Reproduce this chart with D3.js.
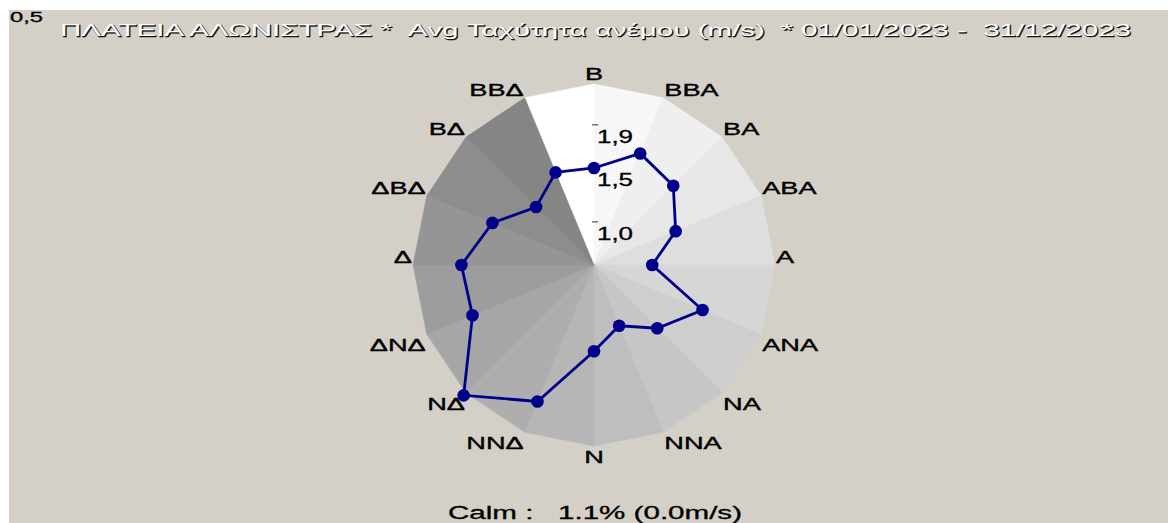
<!DOCTYPE html>
<html>
<head>
<meta charset="utf-8">
<script src="https://cdn.jsdelivr.net/npm/d3@7"></script>
<style>
  body { margin: 0; background: #fff; }
  text { font-family: "Liberation Sans", Arial, sans-serif; white-space: pre; }
</style>
</head>
<body>
<div id="chart"></div>
<script>
// directions clockwise from north
const directions = ["Β", "ΒΒΑ", "ΒΑ", "ΑΒΑ", "Α", "ΑΝΑ", "ΝΑ", "ΝΝΑ",
                    "Ν", "ΝΝΔ", "ΝΔ", "ΔΝΔ", "Δ", "ΔΒΔ", "ΒΔ", "ΒΒΔ"]
// avg wind speed (m/s) per direction
const speeds = [1.50, 1.72, 1.64, 1.42, 1.14, 1.69, 1.43, 1.21,
                1.40, 1.97, 2.31, 1.82, 1.83, 1.62, 1.36, 1.53]
const ticks = [1.0, 1.5, 1.9]
const tickLabels = ["1,0", "1,5", "1,9"]
const cornerLabel = "0,5"
const title = "ΠΛΑΤΕΙΑ ΑΛΩΝΙΣΤΡΑΣ *  Avg Ταχύτητα ανέμου (m/s)  * 01/01/2023 -  31/12/2023"
const calmText = "Calm :   1.1% (0.0m/s)"

const w = 1168
const h = 523
const cx = 594, cy = 265
const R = 181

var svg = d3.select("#chart").append("svg")
    .attr("width", w).attr("height", h)

svg.append("rect").attr("x", 9).attr("y", 10)
    .attr("width", w - 9).attr("height", h - 10)
    .attr("fill", "#d4d0c8")

var step = 2 * Math.PI / directions.length
var r = d3.scaleLinear().domain([0.6, 0.6 + R / 107.8]).range([0, R])
var shade = d3.scaleLinear().domain([0, directions.length - 1]).range(["#ffffff", "#858585"])

var g = svg.append("g").attr("transform", `translate(${cx},${cy})`)

function pt(a, rad) {
    return [Math.sin(a) * rad, -Math.cos(a) * rad]
}

// background wedges, white starting at ΒΒΔ and darkening clockwise
directions.forEach(function(d, k) {
    var a0 = -step + k * step
    var a1 = a0 + step
    var p0 = pt(a0, R), p1 = pt(a1, R)
    g.append("path")
        .attr("d", `M0,0L${p0[0]},${p0[1]}L${p1[0]},${p1[1]}Z`)
        .attr("fill", shade(k))
        .attr("stroke", shade(k)).attr("stroke-width", 0.5)
})

// stretch a text element horizontally
function stretch(sel, f) {
    sel.each(function() {
        var len = this.getComputedTextLength()
        d3.select(this).attr("textLength", len * f).attr("lengthAdjust", "spacingAndGlyphs")
    })
}

// direction labels
directions.forEach(function(d, i) {
    var v = pt(i * step, R)
    var anchor = "middle", x = v[0]
    if (v[0] > 1) { anchor = "start"; x = v[0] + 1 }
    if (v[0] < -1) { anchor = "end"; x = v[0] - 1 }
    var y = v[1] <= 0.5 ? v[1] - 2 : v[1] + 17
    if (i == 0) y = v[1] - 4
    g.append("text").attr("x", x).attr("y", y)
        .attr("text-anchor", anchor)
        .attr("font-size", 17).attr("fill", "#000")
        .attr("stroke", "#000").attr("stroke-width", 0.35)
        .text(d)
        .call(stretch, 1.6)
})

// radial ticks
ticks.forEach(function(t, i) {
    g.append("line").attr("x1", -2).attr("x2", 4)
        .attr("y1", -r(t)).attr("y2", -r(t))
        .attr("stroke", "#333").attr("stroke-width", 1)
    g.append("text").attr("x", 3).attr("y", -r(t) + 18)
        .attr("font-size", 18).attr("fill", "#000")
        .attr("stroke", "#000").attr("stroke-width", 0.3)
        .text(tickLabels[i])
        .call(stretch, 1.44)
})

// data line
var line = d3.lineRadial()
    .angle(function(d, i) { return i * step })
    .radius(function(d) { return r(d) })
    .curve(d3.curveLinearClosed)

g.append("path").datum(speeds)
    .attr("d", line)
    .attr("fill", "none")
    .attr("stroke", "#00008b").attr("stroke-width", 2.8)

g.selectAll(".pt").data(speeds).enter().append("circle")
    .attr("class", "pt")
    .attr("cx", function(d, i) { return pt(i * step, r(d))[0] })
    .attr("cy", function(d, i) { return pt(i * step, r(d))[1] })
    .attr("r", 6.3)
    .attr("fill", "#00008b")

// corner label and title
svg.append("text").attr("x", 10).attr("y", 22)
    .attr("font-size", 14).attr("fill", "#000")
    .attr("stroke", "#000").attr("stroke-width", 0.3)
    .attr("textLength", 33).attr("lengthAdjust", "spacingAndGlyphs")
    .text(cornerLabel)

svg.append("text").attr("x", 61).attr("y", 37)
    .attr("font-size", 17).attr("fill", "#111")
    .attr("stroke", "#111").attr("stroke-width", 0.5)
    .attr("textLength", 1071).attr("lengthAdjust", "spacingAndGlyphs")
    .text(title)
svg.append("text").attr("x", 60).attr("y", 36)
    .attr("font-size", 17).attr("fill", "#fff")
    .attr("textLength", 1071).attr("lengthAdjust", "spacingAndGlyphs")
    .text(title)

svg.append("text").attr("x", 448).attr("y", 519)
    .attr("font-size", 18).attr("fill", "#000")
    .attr("stroke", "#000").attr("stroke-width", 0.3)
    .attr("textLength", 294).attr("lengthAdjust", "spacingAndGlyphs")
    .text(calmText)
</script>
</body>
</html>
